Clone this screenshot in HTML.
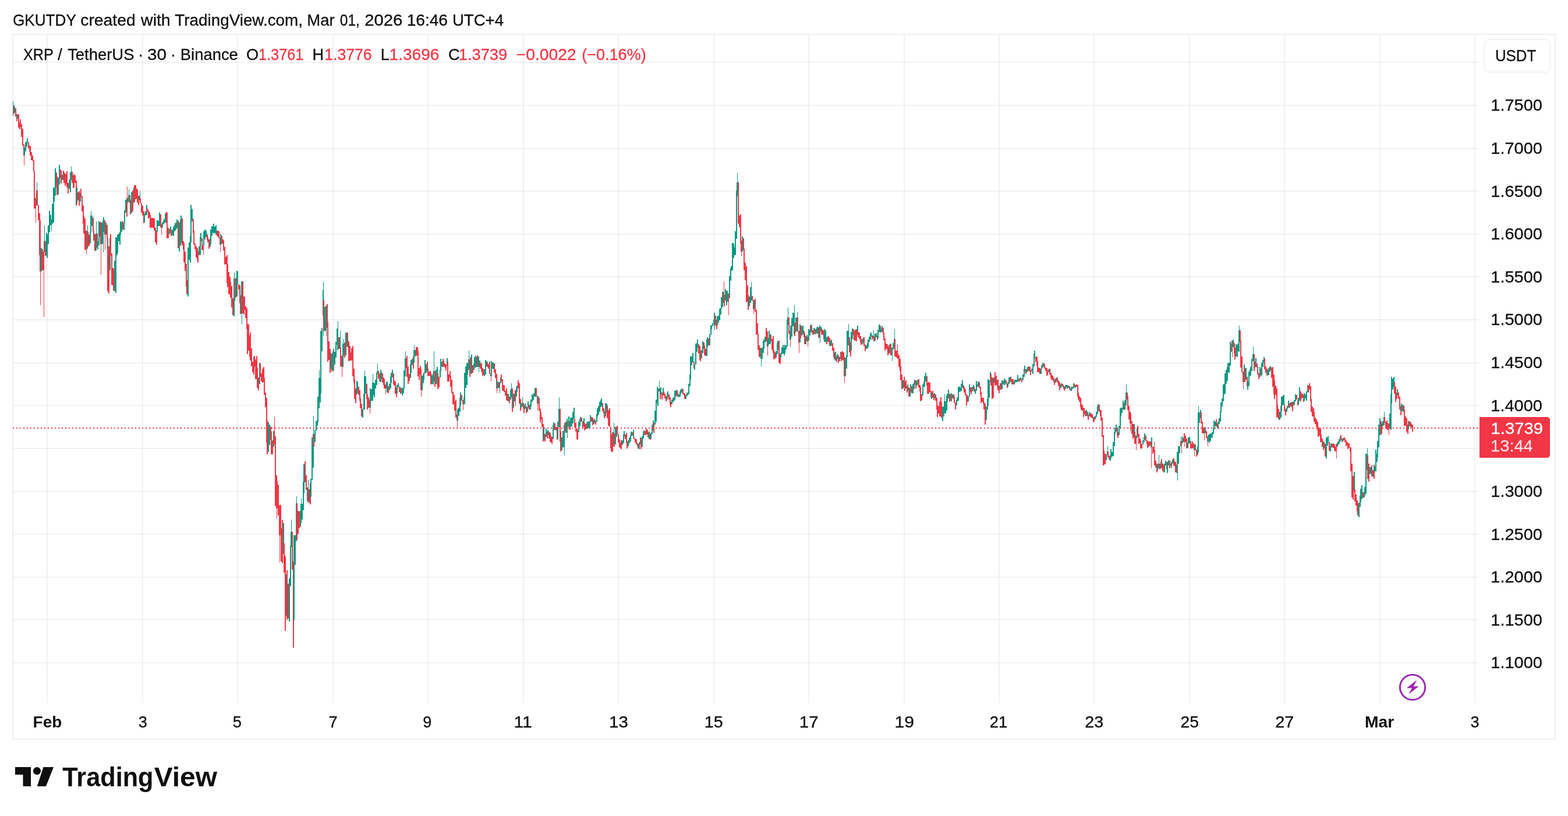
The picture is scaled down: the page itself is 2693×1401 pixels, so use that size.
<!DOCTYPE html>
<html lang="en"><head><meta charset="utf-8"><title>XRP / TetherUS chart</title>
<style>html,body{margin:0;padding:0;background:#fff;width:2693px;height:1401px;overflow:hidden}svg{display:block}text{white-space:pre}</style>
</head><body>
<svg width="2693" height="1401" viewBox="0 0 2693 1401" font-family="'Liberation Sans', Arial, Helvetica, sans-serif" role="img" aria-label="XRP / TetherUS 30 minute candlestick chart">
<rect width="2693" height="1401" fill="#ffffff"/>
<path d="M80 60h2V1207h-2zM244 60h2V1207h-2zM407 60h2V1207h-2zM571 60h2V1207h-2zM734 60h2V1207h-2zM898 60h2V1207h-2zM1061 60h2V1207h-2zM1225 60h2V1207h-2zM1388 60h2V1207h-2zM1552 60h2V1207h-2zM1715 60h2V1207h-2zM1878 60h2V1207h-2zM2042 60h2V1207h-2zM2205 60h2V1207h-2zM2369 60h2V1207h-2zM2532 60h2V1207h-2z" fill="#000" fill-opacity="0.052" shape-rendering="crispEdges"/>
<path d="M23 106H2539v2H23zM23 180H2539v2H23zM23 254H2539v2H23zM23 327H2539v2H23zM23 401H2539v2H23zM23 474H2539v2H23zM23 548H2539v2H23zM23 622H2539v2H23zM23 695H2539v2H23zM23 769H2539v2H23zM23 843H2539v2H23zM23 916H2539v2H23zM23 990H2539v2H23zM23 1063H2539v2H23zM23 1137H2539v2H23z" fill="#000" fill-opacity="0.055" shape-rendering="crispEdges"/>
<path d="M21 58H2672V1270H21zM23 60V1268H2670V60z" fill="#f0f0f0" fill-rule="evenodd" shape-rendering="crispEdges"/>
<path d="M23 181h1v14h-1zM24 181h1v2h-1zM24 193h1v2h-1zM26 186h2v14h-2zM28 196h1v12h-1zM29 196h1v1h-1zM29 204h1v4h-1zM31 196h2v23h-2zM33 210h1v12h-1zM34 205h1v17h-1zM35 205h1v13h-1zM36 213h2v22h-2zM38 221h2v29h-2zM40 248h1v19h-1zM41 248h1v5h-1zM41 267h1v17h-1zM48 244h2v11h-2zM50 250h1v10h-1zM51 250h1v17h-1zM52 251h1v16h-1zM53 261h2v14h-2zM55 267h2v9h-2zM57 275h1v19h-1zM58 275h1v83h-1zM59 294h1v64h-1zM60 340h1v18h-1zM61 340h1v42h-1zM63 327h2v26h-2zM65 352h2v26h-2zM67 366h1v72h-1zM68 366h1v100h-1zM69 378h1v146h-1zM72 428h2v36h-2zM74 432h1v32h-1zM75 433h1v111h-1zM77 414h2v25h-2zM96 296h1v26h-1zM97 296h1v39h-1zM98 303h1v32h-1zM103 291h1v15h-1zM104 291h1v24h-1zM105 293h1v22h-1zM108 293h1v16h-1zM109 293h1v21h-1zM110 296h1v18h-1zM111 298h2v21h-2zM113 299h1v17h-1zM114 294h2v28h-2zM116 314h2v18h-2zM123 295h2v19h-2zM125 301h1v22h-1zM126 299h1v24h-1zM127 299h1v23h-1zM128 301h2v13h-2zM130 310h1v43h-1zM131 310h1v12h-1zM131 350h1v3h-1zM133 330h2v14h-2zM135 328h2v25h-2zM138 324h2v15h-2zM140 337h2v26h-2zM142 353h1v31h-1zM143 353h1v48h-1zM144 371h1v30h-1zM145 375h2v54h-2zM147 396h1v33h-1zM148 396h1v41h-1zM150 398h2v26h-2zM152 403h2v19h-2zM159 374h1v23h-1zM160 374h1v39h-1zM161 396h1v17h-1zM162 402h2v29h-2zM166 401h1v24h-1zM167 401h1v13h-1zM171 382h1v24h-1zM172 381h1v38h-1zM173 381h1v91h-1zM179 378h1v25h-1zM180 378h1v51h-1zM183 386h1v24h-1zM184 386h1v114h-1zM185 409h1v91h-1zM186 423h2v81h-2zM189 402h2v37h-2zM191 435h2v54h-2zM193 460h1v30h-1zM194 460h1v39h-1zM195 462h1v37h-1zM210 380h2v14h-2zM217 340h1v32h-1zM218 320h1v20h-1zM218 348h1v24h-1zM222 335h1v13h-1zM223 335h1v33h-1zM224 343h1v25h-1zM227 327h2v36h-2zM230 318h2v29h-2zM232 318h2v24h-2zM234 324h1v17h-1zM235 324h1v24h-1zM236 326h1v22h-1zM237 336h2v16h-2zM240 340h2v9h-2zM242 349h2v16h-2zM244 353h2v17h-2zM246 363h1v20h-1zM247 363h1v4h-1zM247 382h1v1h-1zM252 358h2v6h-2zM254 361h2v14h-2zM256 364h1v10h-1zM257 364h1v27h-1zM258 369h1v22h-1zM259 374h4v17h-4zM263 375h1v16h-1zM264 375h2v21h-2zM266 391h2v25h-2zM268 396h1v24h-1zM333 396h1v24h-1zM269 398h1v22h-1zM275 368h1v22h-1zM276 368h1v23h-1zM277 385h1v18h-1zM285 364h1v19h-1zM286 364h1v45h-1zM287 365h1v44h-1zM288 391h2v18h-2zM293 394h2v11h-2zM305 379h2v47h-2zM312 375h2v46h-2zM314 414h1v14h-1zM315 414h1v36h-1zM316 417h1v33h-1zM317 432h2v33h-2zM319 453h1v39h-1zM320 453h1v52h-1zM321 481h1v24h-1zM331 376h1v24h-1zM332 376h1v44h-1zM334 418h2v10h-2zM336 423h2v19h-2zM338 426h1v20h-1zM339 426h1v25h-1zM340 431h1v20h-1zM346 409h2v20h-2zM1276 409h1v20h-1zM348 421h1v8h-1zM349 422h1v15h-1zM355 402h1v10h-1zM356 402h1v14h-1zM357 407h1v9h-1zM358 411h2v16h-2zM372 396h1v9h-1zM373 396h2v10h-2zM375 397h2v12h-2zM377 408h1v12h-1zM378 420h1v13h-1zM380 405h2v14h-2zM382 411h1v7h-1zM383 411h1v19h-1zM384 413h1v17h-1zM385 424h2v30h-2zM387 441h2v13h-2zM389 438h1v48h-1zM390 438h1v55h-1zM391 454h1v39h-1zM392 467h2v38h-2zM394 475h1v31h-1zM395 475h1v36h-1zM396 484h1v27h-1zM397 491h2v37h-2zM399 512h2v29h-2zM404 478h2v33h-2zM409 488h2v9h-2zM411 490h1v31h-1zM412 490h1v49h-1zM413 507h1v32h-1zM416 483h2v55h-2zM418 509h2v31h-2zM420 510h1v22h-1zM421 526h2v20h-2zM423 529h1v36h-1zM424 529h1v79h-1zM425 556h1v52h-1zM426 557h2v45h-2zM428 576h1v37h-1zM429 571h2v48h-2zM431 598h2v31h-2zM433 621h2v18h-2zM435 613h1v30h-1zM436 611h1v32h-1zM437 611h1v19h-1zM586 611h1v19h-1zM438 617h2v34h-2zM440 611h1v40h-1zM441 611h1v55h-1zM442 632h1v34h-1zM443 648h2v22h-2zM446 624h2v23h-2zM448 641h2v14h-2zM651 641h2v14h-2zM450 633h2v24h-2zM607 633h1v24h-1zM452 630h1v26h-1zM453 630h1v48h-1zM454 649h1v29h-1zM455 674h2v25h-2zM457 683h1v77h-1zM458 683h1v97h-1zM459 722h1v58h-1zM464 732h1v23h-1zM465 732h1v48h-1zM466 741h1v39h-1zM467 756h2v24h-2zM470 740h1v23h-1zM471 716h1v47h-1zM472 749h2v120h-2zM474 816h1v57h-1zM475 816h1v74h-1zM476 826h1v47h-1zM477 832h2v53h-2zM479 867h1v52h-1zM481 867h1v52h-1zM480 867h1v99h-1zM482 867h1v97h-1zM483 907h1v57h-1zM484 893h2v74h-2zM487 933h2v50h-2zM489 955h2v128h-2zM492 979h2v85h-2zM494 1002h2v60h-2zM501 913h2v65h-2zM503 964h1v148h-1zM504 1065h1v47h-1zM509 864h2v63h-2zM511 877h2v40h-2zM513 878h2v29h-2zM523 792h2v36h-2zM525 816h2v25h-2zM527 837h1v23h-1zM530 840h2v23h-2zM532 830h1v36h-1zM533 853h1v13h-1zM538 745h2v22h-2zM555 515h2v54h-2zM561 522h1v41h-1zM562 522h1v99h-1zM563 553h1v68h-1zM564 586h2v32h-2zM566 599h1v41h-1zM567 599h1v8h-1zM567 634h1v6h-1zM569 607h2v31h-2zM581 579h2v20h-2zM584 597h2v32h-2zM587 611h1v36h-1zM698 611h2v36h-2zM591 588h2v26h-2zM596 571h2v25h-2zM598 586h2v34h-2zM600 594h2v25h-2zM602 605h1v14h-1zM1448 605h1v14h-1zM603 598h2v21h-2zM605 594h2v52h-2zM608 633h1v52h-1zM609 651h1v34h-1zM610 667h2v25h-2zM615 664h2v14h-2zM1683 664h1v14h-1zM617 670h1v18h-1zM618 670h1v31h-1zM619 684h1v17h-1zM620 693h2v22h-2zM629 659h1v26h-1zM630 659h1v44h-1zM631 677h1v26h-1zM632 682h2v18h-2zM634 686h1v14h-1zM635 700h1v10h-1zM649 637h2v13h-2zM656 641h2v16h-2zM658 648h1v13h-1zM659 648h1v19h-1zM660 651h1v16h-1zM661 660h1v7h-1zM662 660h1v17h-1zM666 663h2v12h-2zM1565 663h2v12h-2zM675 641h1v19h-1zM740 641h1v19h-1zM676 641h1v21h-1zM677 653h1v9h-1zM678 655h2v21h-2zM680 665h1v17h-1zM681 675h1v7h-1zM685 664h2v9h-2zM688 667h2v8h-2zM853 667h1v8h-1zM697 615h1v17h-1zM700 629h2v30h-2zM702 642h2v12h-2zM853 642h1v12h-1zM709 612h1v21h-1zM710 623h1v10h-1zM824 623h2v10h-2zM714 596h2v15h-2zM716 596h1v14h-1zM717 596h1v50h-1zM718 602h1v44h-1zM719 632h2v20h-2zM721 628h1v15h-1zM722 628h1v42h-1zM723 633h1v48h-1zM733 621h1v17h-1zM734 621h1v25h-1zM735 633h1v13h-1zM736 638h2v7h-2zM738 637h1v9h-1zM739 637h1v23h-1zM746 637h2v27h-2zM773 637h1v27h-1zM751 641h2v27h-2zM753 647h2v18h-2zM1552 647h1v18h-1zM760 616h2v14h-2zM762 620h1v8h-1zM763 624h2v7h-2zM2158 624h1v7h-1zM765 626h2v10h-2zM768 621h2v34h-2zM770 643h2v12h-2zM860 643h2v12h-2zM772 637h1v11h-1zM774 646h1v18h-1zM775 652h2v23h-2zM777 673h2v21h-2zM779 678h1v17h-1zM780 678h1v27h-1zM781 689h1v16h-1zM782 686h2v31h-2zM784 712h1v10h-1zM785 722h1v14h-1zM792 678h2v10h-2zM794 687h1v7h-1zM795 687h1v17h-1zM806 617h1v30h-1zM807 613h1v34h-1zM808 613h1v28h-1zM811 627h2v13h-2zM819 610h2v20h-2zM1543 610h2v20h-2zM826 624h2v14h-2zM828 632h2v13h-2zM1797 632h2v13h-2zM830 634h1v10h-1zM836 622h2v8h-2zM838 625h2v8h-2zM1794 625h1v8h-1zM840 621h2v21h-2zM842 641h1v5h-1zM843 646h1v9h-1zM848 624h2v16h-2zM850 634h2v15h-2zM852 642h1v25h-1zM855 656h2v10h-2zM1681 656h2v10h-2zM862 651h2v20h-2zM864 661h1v10h-1zM865 661h1v12h-1zM866 662h1v11h-1zM867 671h2v8h-2zM869 667h1v20h-1zM870 667h1v21h-1zM871 676h1v12h-1zM874 681h2v11h-2zM1639 681h1v11h-1zM879 667h2v40h-2zM884 670h1v19h-1zM885 670h1v27h-1zM889 653h2v14h-2zM1555 653h2v14h-2zM1572 653h2v14h-2zM891 658h2v35h-2zM893 685h1v20h-1zM894 685h1v7h-1zM894 700h1v5h-1zM898 692h1v9h-1zM899 692h1v17h-1zM900 696h1v13h-1zM903 698h2v11h-2zM908 695h2v8h-2zM920 666h2v15h-2zM922 680h1v13h-1zM923 693h1v12h-1zM925 683h2v22h-2zM927 702h2v23h-2zM929 708h1v12h-1zM930 716h2v17h-2zM932 728h1v30h-1zM933 728h1v5h-1zM933 756h1v2h-1zM935 745h2v13h-2zM939 741h1v12h-1zM942 741h2v12h-2zM940 747h1v6h-1zM944 743h2v16h-2zM946 748h1v11h-1zM2035 748h2v11h-2zM947 750h2v12h-2zM952 727h2v11h-2zM2384 727h1v11h-1zM954 733h2v6h-2zM956 733h1v22h-1zM957 754h1v1h-1zM961 702h1v56h-1zM962 702h1v73h-1zM963 741h1v34h-1zM971 724h2v19h-2zM978 723h1v15h-1zM979 733h1v5h-1zM986 719h2v15h-2zM988 726h2v15h-2zM990 736h1v18h-1zM991 736h1v19h-1zM992 739h1v16h-1zM998 717h2v7h-2zM1000 723h2v13h-2zM1003 726h2v13h-2zM1005 728h2v9h-2zM1007 725h1v11h-1zM1015 716h2v8h-2zM1879 716h1v8h-1zM1017 717h2v13h-2zM1022 722h2v7h-2zM1034 692h2v14h-2zM1036 701h1v9h-1zM1037 701h1v17h-1zM1038 706h1v12h-1zM1042 696h2v22h-2zM1044 704h2v27h-2zM1046 701h2v32h-2zM1048 733h1v37h-1zM1049 733h1v42h-1zM1050 746h1v29h-1zM1051 742h2v34h-2zM1054 744h2v23h-2zM2034 744h1v23h-1zM1059 731h2v15h-2zM1061 745h2v15h-2zM1063 754h2v14h-2zM1065 760h1v10h-1zM1066 756h2v15h-2zM1073 746h2v8h-2zM1075 743h1v17h-1zM1076 743h1v27h-1zM1077 758h1v12h-1zM2047 758h2v12h-2zM1085 742h2v6h-2zM1088 751h2v3h-2zM1090 753h2v7h-2zM1092 754h2v9h-2zM1094 761h1v5h-1zM1095 761h1v9h-1zM1096 762h1v8h-1zM1960 762h2v8h-2zM2046 762h1v8h-1zM1100 752h2v19h-2zM1107 740h2v7h-2zM1109 736h2v10h-2zM1111 738h1v8h-1zM1112 738h1v13h-1zM1113 742h1v9h-1zM1116 745h1v10h-1zM1117 753h1v2h-1zM1122 726h2v17h-2zM1133 667h1v18h-1zM1134 677h1v8h-1zM1637 677h1v8h-1zM1136 674h2v12h-2zM1852 674h1v12h-1zM1935 674h1v12h-1zM1139 672h2v7h-2zM1141 676h2v8h-2zM1143 680h2v9h-2zM1148 677h2v9h-2zM1150 682h1v13h-1zM1151 682h1v17h-1zM1152 690h1v9h-1zM2217 690h2v9h-2zM1162 670h1v9h-1zM1163 670h1v11h-1zM1164 675h1v6h-1zM1172 668h2v9h-2zM1174 675h1v4h-1zM1175 675h1v10h-1zM2235 675h1v10h-1zM1176 676h1v9h-1zM1191 621h1v11h-1zM1192 621h1v5h-1zM1199 591h2v16h-2zM1201 594h1v24h-1zM1202 594h1v26h-1zM1203 602h1v18h-1zM1208 588h1v11h-1zM1209 588h1v22h-1zM1210 593h1v17h-1zM1211 599h2v12h-2zM1216 581h2v12h-2zM1228 542h2v17h-2zM1230 549h1v16h-1zM1231 558h1v7h-1zM1242 501h1v19h-1zM1243 483h1v43h-1zM1244 506h1v20h-1zM1250 504h1v14h-1zM1251 504h1v37h-1zM1267 313h2v71h-2zM1269 370h2v20h-2zM1271 368h1v50h-1zM1272 368h1v64h-1zM1273 413h1v27h-1zM1277 409h1v55h-1zM1278 427h1v37h-1zM1279 451h2v30h-2zM1281 457h2v62h-2zM1283 490h1v28h-1zM1284 490h1v42h-1zM1285 506h1v26h-1zM1291 508h2v8h-2zM1293 515h1v16h-1zM1294 531h1v8h-1zM1296 513h2v22h-2zM1298 532h2v43h-2zM1300 555h1v19h-1zM1301 555h1v46h-1zM1302 573h1v28h-1zM1303 593h2v20h-2zM1305 597h1v16h-1zM1431 597h1v16h-1zM1306 597h1v1h-1zM1315 563h2v23h-2zM1317 569h1v26h-1zM1318 569h1v11h-1zM1318 595h1v15h-1zM1525 595h1v15h-1zM1323 575h2v10h-2zM1325 582h2v19h-2zM1327 577h1v29h-1zM1328 577h1v40h-1zM1329 601h1v16h-1zM1330 605h2v11h-2zM1337 585h2v38h-2zM1339 608h1v17h-1zM1340 614h1v11h-1zM1354 545h2v28h-2zM1356 568h1v15h-1zM1414 568h1v15h-1zM1357 583h1v12h-1zM1364 554h2v23h-2zM1369 545h2v24h-2zM1371 568h1v20h-1zM1372 568h1v38h-1zM1374 559h2v22h-2zM1380 568h1v11h-1zM1381 568h1v23h-1zM1382 573h1v18h-1zM1386 578h1v8h-1zM1387 578h1v17h-1zM1393 558h2v13h-2zM1395 567h2v8h-2zM1400 565h2v9h-2zM1405 562h2v18h-2zM1410 564h2v10h-2zM1412 566h2v9h-2zM1419 579h1v12h-1zM1420 587h1v4h-1zM1422 577h2v10h-2zM1424 580h2v14h-2zM1429 589h2v13h-2zM1432 597h1v20h-1zM2121 597h1v20h-1zM1433 605h1v12h-1zM1436 612h1v9h-1zM1437 616h1v5h-1zM1439 610h2v13h-2zM1444 604h2v16h-2zM1446 603h2v15h-2zM1449 605h1v41h-1zM1450 613h1v44h-1zM1458 579h2v26h-2zM1460 587h1v25h-1zM1461 602h1v10h-1zM1465 565h1v10h-1zM1466 565h1v19h-1zM1467 568h1v16h-1zM1468 566h2v19h-2zM1470 565h2v21h-2zM1473 570h2v9h-2zM1475 571h2v11h-2zM1477 577h1v11h-1zM1478 577h1v15h-1zM1479 582h1v10h-1zM1483 579h2v15h-2zM1485 592h2v11h-2zM1497 576h2v7h-2zM1506 576h1v7h-1zM1500 577h2v9h-2zM1507 581h1v2h-1zM1511 559h1v12h-1zM1512 559h1v5h-1zM1512 570h1v1h-1zM1516 563h1v10h-1zM1517 563h1v21h-1zM1518 571h1v13h-1zM1519 581h2v21h-2zM1521 590h2v9h-2zM1523 591h1v9h-1zM1524 591h1v19h-1zM1529 591h2v19h-2zM1526 592h2v15h-2zM1536 582h2v30h-2zM1538 602h2v11h-2zM1540 602h1v13h-1zM1541 591h1v25h-1zM1542 607h1v9h-1zM1545 616h1v21h-1zM1546 616h1v37h-1zM1547 629h1v24h-1zM1548 643h2v25h-2zM1553 647h1v24h-1zM1554 655h1v16h-1zM1557 663h1v11h-1zM1558 671h1v3h-1zM1560 665h2v16h-2zM1577 651h2v14h-2zM1579 661h1v11h-1zM1580 661h1v28h-1zM1581 665h1v24h-1zM1582 677h2v10h-2zM1591 646h1v16h-1zM1592 646h1v30h-1zM1593 657h1v19h-1zM1594 656h2v20h-2zM2394 656h2v20h-2zM1596 657h2v16h-2zM1598 671h1v11h-1zM1599 671h1v2h-1zM1601 671h2v12h-2zM1603 676h1v11h-1zM1604 684h1v3h-1zM1606 677h2v11h-2zM1632 677h1v11h-1zM1608 683h1v20h-1zM1689 683h1v20h-1zM1609 683h1v33h-1zM1610 695h1v21h-1zM2194 695h1v21h-1zM1611 697h2v13h-2zM1613 689h2v26h-2zM1615 682h1v33h-1zM1616 682h1v35h-1zM1617 691h1v26h-1zM1630 676h2v14h-2zM1638 677h1v15h-1zM1640 691h2v12h-2zM1654 662h1v7h-1zM1655 662h1v12h-1zM2246 662h2v12h-2zM1656 665h1v9h-1zM1657 668h2v11h-2zM1659 677h2v19h-2zM1661 679h1v11h-1zM1662 679h1v2h-1zM1662 689h1v1h-1zM1666 665h1v8h-1zM1667 665h2v12h-2zM1672 664h2v8h-2zM1684 664h1v28h-1zM1685 673h1v19h-1zM1686 683h2v7h-2zM1688 683h1v10h-1zM1690 690h1v13h-1zM1691 693h2v36h-2zM1701 642h2v20h-2zM1703 648h2v37h-2zM1705 649h1v34h-1zM1706 657h1v26h-1zM1708 639h2v23h-2zM1710 645h2v16h-2zM1712 652h1v12h-1zM1713 652h2v18h-2zM1715 662h2v13h-2zM1718 658h2v11h-2zM2248 658h2v11h-2zM1727 653h2v7h-2zM1729 659h1v7h-1zM1730 664h1v2h-1zM1735 647h2v8h-2zM2142 647h1v8h-1zM1737 651h4v9h-4zM1749 650h2v5h-2zM1754 650h2v6h-2zM1761 634h2v8h-2zM1766 629h2v8h-2zM1768 630h1v8h-1zM1769 630h1v14h-1zM1770 636h1v8h-1zM1799 636h1v8h-1zM1778 613h2v8h-2zM1780 612h1v16h-1zM1781 612h1v27h-1zM2132 612h2v27h-2zM1782 620h1v19h-1zM1783 631h2v8h-2zM1785 632h2v10h-2zM1792 624h1v5h-1zM1793 624h1v9h-1zM1795 631h2v6h-2zM1802 633h2v10h-2zM1804 640h1v9h-1zM1805 640h1v12h-1zM1806 644h1v8h-1zM1807 645h2v8h-2zM1809 649h1v7h-1zM1810 649h1v12h-1zM1811 652h1v9h-1zM1815 648h2v9h-2zM1817 653h2v10h-2zM1819 656h2v14h-2zM1824 659h2v5h-2zM1826 662h1v6h-1zM1827 662h1v9h-1zM1828 664h1v7h-1zM1836 663h2v6h-2zM1838 667h1v4h-1zM1844 659h2v6h-2zM1848 660h2v4h-2zM1850 661h1v20h-1zM1851 661h1v25h-1zM1853 680h2v10h-2zM1855 683h1v16h-1zM1856 683h1v21h-1zM1857 693h1v11h-1zM1858 695h2v10h-2zM1860 700h2v16h-2zM1862 701h1v10h-1zM1863 705h2v9h-2zM1867 707h1v8h-1zM1868 707h1v14h-1zM1869 712h1v9h-1zM1872 709h1v6h-1zM1873 709h1v8h-1zM1874 710h1v7h-1zM1875 711h2v7h-2zM1877 716h2v9h-2zM1887 695h2v12h-2zM1889 704h1v10h-1zM1890 704h2v18h-2zM1892 717h2v33h-2zM1894 747h2v52h-2zM1896 773h1v25h-1zM1897 779h2v18h-2zM1902 775h2v10h-2zM1904 782h2v7h-2zM1918 735h1v13h-1zM2265 735h2v13h-2zM1919 735h1v17h-1zM1920 742h1v10h-1zM1930 692h1v12h-1zM1931 703h1v1h-1zM1936 674h1v30h-1zM1937 680h1v24h-1zM1938 697h2v23h-2zM1940 707h1v20h-1zM1941 707h1v33h-1zM1942 710h1v17h-1zM1943 723h2v22h-2zM1945 728h2v25h-2zM1948 741h2v21h-2zM1950 748h1v14h-1zM1951 748h1v25h-1zM1953 731h2v18h-2zM1955 745h2v17h-2zM1957 753h1v8h-1zM1958 753h1v17h-1zM2037 753h2v17h-2zM1959 756h1v14h-1zM1967 748h2v9h-2zM1969 756h1v7h-1zM1970 756h1v13h-1zM1971 757h1v12h-1zM1972 758h2v9h-2zM1974 758h2v7h-2zM1976 758h1v10h-1zM1977 768h1v36h-1zM1979 767h2v12h-2zM1981 767h1v9h-1zM1982 758h1v41h-1zM1983 773h1v26h-1zM1984 791h2v12h-2zM1986 796h1v15h-1zM1987 808h1v3h-1zM1991 796h2v10h-2zM1994 788h2v16h-2zM1996 796h2v13h-2zM1998 798h1v13h-1zM2003 793h1v13h-1zM2008 791h2v13h-2zM2010 796h1v4h-1zM2015 787h2v13h-2zM2017 792h1v8h-1zM2018 793h2v18h-2zM2020 798h1v14h-1zM2028 757h1v9h-1zM2029 757h1v21h-1zM2032 752h1v7h-1zM2033 744h1v15h-1zM2044 757h2v13h-2zM2049 761h1v8h-1zM2289 761h2v8h-2zM2316 761h2v8h-2zM2050 761h1v12h-1zM2051 763h1v20h-1zM2054 772h2v12h-2zM2062 708h2v19h-2zM2064 724h2v20h-2zM2066 734h2v10h-2zM2068 735h1v21h-1zM2071 740h2v12h-2zM2073 750h1v8h-1zM2074 758h1v8h-1zM2088 720h2v12h-2zM2090 727h1v8h-1zM2115 585h1v19h-1zM2116 585h1v28h-1zM2119 589h1v18h-1zM2120 589h1v28h-1zM2129 567h1v20h-1zM2130 567h1v64h-1zM2131 585h1v46h-1zM2134 638h1v18h-1zM2135 638h1v30h-1zM2137 632h2v24h-2zM2141 647h1v16h-1zM2153 608h2v29h-2zM2155 621h1v10h-1zM2159 624h1v19h-1zM2160 630h1v13h-1zM2161 641h2v10h-2zM2165 633h1v11h-1zM2171 616h2v18h-2zM2173 629h2v11h-2zM2175 633h1v12h-1zM2176 633h1v2h-1zM2176 644h1v1h-1zM2182 630h1v6h-1zM2183 630h1v19h-1zM2184 632h1v17h-1zM2185 630h2v34h-2zM2187 643h1v34h-1zM2188 643h1v42h-1zM2189 653h1v32h-1zM2190 662h2v16h-2zM2192 667h2v50h-2zM2195 702h2v18h-2zM2205 695h2v11h-2zM2207 702h2v11h-2zM2214 692h2v8h-2zM2219 690h2v16h-2zM2226 678h2v8h-2zM2228 686h1v10h-1zM2229 695h1v1h-1zM2233 672h2v17h-2zM2236 676h2v7h-2zM2238 678h1v12h-1zM2239 688h1v2h-1zM2250 663h1v26h-1zM2251 663h1v44h-1zM2252 685h1v22h-1zM2253 698h2v17h-2zM2255 701h1v14h-1zM2256 701h1v23h-1zM2257 707h1v17h-1zM2258 717h2v11h-2zM2260 720h2v13h-2zM2262 724h1v15h-1zM2263 724h1v26h-1zM2264 732h1v18h-1zM2267 736h2v23h-2zM2269 746h1v13h-1zM2270 753h2v14h-2zM2272 758h1v14h-1zM2273 769h1v3h-1zM2275 762h2v22h-2zM2282 759h2v15h-2zM2287 762h2v6h-2zM2291 763h1v10h-1zM2292 763h1v12h-1zM2293 767h1v8h-1zM2294 762h1v13h-1zM2295 762h1v25h-1zM2302 747h2v8h-2zM2304 753h2v6h-2zM2310 753h1v6h-1zM2308 751h1v4h-1zM2309 751h1v8h-1zM2311 756h2v10h-2zM2313 759h1v5h-1zM2314 759h1v12h-1zM2315 761h1v10h-1zM2318 768h1v7h-1zM2319 768h2v41h-2zM2321 796h2v58h-2zM2323 817h2v41h-2zM2326 840h2v21h-2zM2328 849h2v19h-2zM2330 859h1v19h-1zM2331 859h1v26h-1zM2332 864h1v21h-1zM2340 845h2v10h-2zM2348 782h2v40h-2zM2350 796h2v31h-2zM2354 802h1v11h-1zM2357 807h2v11h-2zM2359 798h1v24h-1zM2360 798h1v3h-1zM2360 810h1v12h-1zM2371 723h2v23h-2zM2373 727h1v17h-1zM2377 716h2v10h-2zM2379 724h2v11h-2zM2381 722h1v15h-1zM2382 722h1v16h-1zM2383 726h1v12h-1zM2385 727h1v20h-1zM2396 664h2v26h-2zM2398 674h1v11h-1zM2399 679h1v6h-1zM2401 674h2v10h-2zM2403 681h2v22h-2zM2405 697h1v16h-1zM2406 706h1v7h-1zM2410 696h1v11h-1zM2411 696h1v35h-1zM2412 703h1v28h-1zM2413 715h2v16h-2zM2415 718h2v23h-2zM2417 729h1v16h-1zM2418 737h1v8h-1zM2420 723h2v9h-2zM2422 725h1v8h-1zM2423 725h1v9h-1zM2424 728h1v6h-1zM2425 729h2v12h-2z" fill="#f23645" shape-rendering="crispEdges"/>
<path d="M22 174h1v25h-1zM24 183h2v10h-2zM29 197h2v7h-2zM41 253h2v14h-2zM43 244h2v16h-2zM45 243h1v9h-1zM46 237h1v15h-1zM47 237h1v8h-1zM62 327h1v26h-1zM63 313h1v14h-1zM70 426h2v40h-2zM75 414h1v19h-1zM76 387h1v46h-1zM79 400h1v39h-1zM80 400h1v43h-1zM81 403h1v40h-1zM82 387h2v32h-2zM84 362h2v37h-2zM156 362h1v37h-1zM86 369h2v18h-2zM88 377h1v20h-1zM89 350h2v34h-2zM91 322h2v60h-2zM93 322h1v24h-1zM94 289h2v47h-2zM99 305h2v29h-2zM101 283h2v34h-2zM106 300h2v9h-2zM118 308h2v16h-2zM120 296h1v34h-1zM121 295h1v35h-1zM122 286h1v23h-1zM131 322h2v28h-2zM137 331h1v15h-1zM138 339h1v7h-1zM149 396h1v31h-1zM150 387h1v11h-1zM299 387h1v11h-1zM150 424h1v3h-1zM154 399h1v19h-1zM155 370h1v48h-1zM157 370h2v18h-2zM164 401h1v29h-1zM165 380h1v50h-1zM167 414h2v14h-2zM169 380h2v41h-2zM174 382h2v37h-2zM176 378h1v41h-1zM177 373h1v60h-1zM178 373h1v25h-1zM181 382h2v21h-2zM188 409h1v55h-1zM189 439h1v25h-1zM196 448h2v52h-2zM198 407h2v96h-2zM200 408h1v30h-1zM201 403h1v35h-1zM202 403h1v31h-1zM203 401h2v13h-2zM205 398h1v22h-1zM206 380h1v40h-1zM207 380h1v23h-1zM208 381h2v17h-2zM212 383h1v12h-1zM213 361h1v34h-1zM214 361h1v23h-1zM215 343h2v22h-2zM218 340h2v8h-2zM220 335h1v12h-1zM221 325h1v22h-1zM225 330h2v36h-2zM229 322h1v26h-1zM230 347h1v1h-1zM239 336h1v8h-1zM240 328h1v12h-1zM247 367h2v15h-2zM249 363h2v7h-2zM251 352h1v17h-1zM252 352h1v6h-1zM252 364h1v5h-1zM269 378h2v20h-2zM271 379h2v9h-2zM273 365h2v23h-2zM278 382h2v9h-2zM280 379h1v6h-1zM281 376h1v9h-1zM282 376h1v7h-1zM283 366h2v16h-2zM290 393h2v9h-2zM292 389h1v11h-1zM368 389h2v11h-2zM293 389h1v5h-1zM295 395h2v9h-2zM297 391h1v14h-1zM298 387h1v18h-1zM300 383h2v13h-2zM302 382h1v11h-1zM303 377h1v16h-1zM304 377h1v14h-1zM307 382h2v50h-2zM309 377h1v45h-1zM310 370h1v52h-1zM311 370h1v47h-1zM322 425h2v84h-2zM324 416h2v30h-2zM326 405h1v46h-1zM327 352h1v99h-1zM328 352h1v64h-1zM329 359h2v21h-2zM341 423h2v15h-2zM343 407h1v31h-1zM344 400h1v38h-1zM345 400h1v14h-1zM349 397h2v25h-2zM351 394h2v17h-2zM353 396h2v11h-2zM360 409h1v15h-1zM361 394h1v30h-1zM362 394h1v25h-1zM363 388h2v17h-2zM365 389h1v10h-1zM366 384h2v17h-2zM370 387h2v16h-2zM378 402h2v18h-2zM401 478h1v65h-1zM402 468h1v75h-1zM403 478h1v39h-1zM406 465h2v44h-2zM408 466h1v22h-1zM414 483h1v56h-1zM415 483h1v74h-1zM445 623h1v36h-1zM446 623h1v1h-1zM848 623h1v1h-1zM446 647h1v12h-1zM460 725h2v51h-2zM462 729h2v35h-2zM469 740h1v27h-1zM470 763h1v4h-1zM486 898h1v53h-1zM487 898h1v35h-1zM491 986h1v71h-1zM496 993h2v74h-2zM498 937h1v69h-1zM499 913h1v93h-1zM500 892h1v47h-1zM504 919h2v146h-2zM506 919h2v51h-2zM508 864h1v65h-1zM509 852h1v12h-1zM509 927h1v2h-1zM515 877h1v27h-1zM516 865h1v39h-1zM517 856h1v42h-1zM518 865h2v27h-2zM520 827h1v49h-1zM521 797h1v79h-1zM522 797h1v50h-1zM528 837h1v25h-1zM529 824h1v38h-1zM533 822h2v31h-2zM535 751h2v73h-2zM537 745h1v58h-1zM538 714h1v31h-1zM538 767h1v36h-1zM540 738h2v21h-2zM542 723h2v16h-2zM544 721h1v10h-1zM545 681h1v50h-1zM546 681h1v44h-1zM547 649h1v52h-1zM548 635h1v66h-1zM549 649h1v42h-1zM550 568h1v123h-1zM551 568h1v108h-1zM552 563h2v40h-2zM554 498h1v44h-1zM555 484h1v31h-1zM555 569h1v8h-1zM557 527h2v41h-2zM559 525h1v43h-1zM560 525h1v52h-1zM567 607h2v27h-2zM571 603h1v32h-1zM572 599h2v38h-2zM574 604h2v22h-2zM576 587h2v27h-2zM578 564h1v28h-1zM579 564h1v37h-1zM580 551h1v50h-1zM583 579h1v20h-1zM584 567h1v30h-1zM588 590h1v40h-1zM589 582h1v48h-1zM590 590h1v21h-1zM593 571h2v39h-2zM595 571h1v24h-1zM612 654h2v23h-2zM614 656h1v19h-1zM858 656h1v19h-1zM622 702h2v15h-2zM624 676h1v27h-1zM625 646h1v57h-1zM626 636h1v67h-1zM627 646h2v30h-2zM635 667h2v33h-2zM637 668h2v20h-2zM639 657h1v31h-1zM640 642h1v46h-1zM641 657h1v21h-1zM642 657h1v25h-1zM643 658h1v24h-1zM878 658h1v24h-1zM644 652h2v15h-2zM646 640h1v21h-1zM647 637h1v24h-1zM648 624h1v18h-1zM653 635h2v21h-2zM655 639h1v12h-1zM663 656h1v11h-1zM664 655h2v19h-2zM668 659h2v11h-2zM670 647h1v20h-1zM671 640h1v27h-1zM672 640h1v17h-1zM673 635h2v13h-2zM681 661h2v14h-2zM683 658h2v7h-2zM687 665h1v11h-1zM688 665h1v2h-1zM688 675h1v1h-1zM690 666h2v13h-2zM1138 666h1v13h-1zM692 666h1v9h-1zM693 636h1v39h-1zM694 636h1v31h-1zM695 615h1v31h-1zM696 603h1v43h-1zM704 626h1v23h-1zM705 618h1v31h-1zM706 618h1v22h-1zM707 616h2v11h-2zM710 601h1v22h-1zM711 593h1v30h-1zM712 601h2v11h-2zM724 645h2v25h-2zM726 643h1v15h-1zM727 640h1v18h-1zM728 640h1v12h-1zM729 618h2v23h-2zM731 625h2v15h-2zM741 644h2v15h-2zM743 641h1v19h-1zM744 637h1v23h-1zM745 603h1v52h-1zM748 635h2v24h-2zM2105 635h2v24h-2zM750 630h1v30h-1zM751 630h1v11h-1zM755 634h1v14h-1zM756 616h1v32h-1zM757 616h1v21h-1zM2149 616h2v21h-2zM758 621h2v9h-2zM767 615h1v13h-1zM768 615h1v6h-1zM785 702h2v20h-2zM787 700h2v14h-2zM789 683h1v24h-1zM790 674h1v33h-1zM791 674h1v22h-1zM1933 674h1v22h-1zM796 682h1v12h-1zM797 640h2v54h-2zM799 629h2v37h-2zM801 623h2v38h-2zM803 623h1v20h-1zM804 617h1v18h-1zM805 602h1v33h-1zM809 609h2v33h-2zM813 624h1v11h-1zM814 613h1v22h-1zM815 613h1v18h-1zM816 611h2v20h-2zM818 613h1v17h-1zM821 612h1v18h-1zM822 612h1v27h-1zM823 619h1v11h-1zM824 619h1v4h-1zM831 634h2v12h-2zM2146 634h1v12h-1zM833 618h2v25h-2zM835 620h1v9h-1zM836 620h1v2h-1zM843 620h2v26h-2zM845 622h2v11h-2zM847 623h1v11h-1zM853 654h2v13h-2zM857 656h1v10h-1zM859 648h1v10h-1zM860 655h1v3h-1zM872 676h2v13h-2zM883 676h1v13h-1zM876 670h1v16h-1zM877 667h1v19h-1zM881 676h2v24h-2zM886 666h1v15h-1zM918 666h2v15h-2zM887 662h1v19h-1zM888 662h1v11h-1zM894 692h2v8h-2zM896 692h1v6h-1zM897 682h1v16h-1zM901 693h2v9h-2zM905 699h1v8h-1zM906 689h1v18h-1zM907 689h1v11h-1zM910 694h1v9h-1zM911 686h1v17h-1zM912 686h1v12h-1zM913 677h2v13h-2zM915 678h1v9h-1zM916 675h1v12h-1zM917 675h1v6h-1zM923 680h2v13h-2zM933 733h2v23h-2zM937 736h2v14h-2zM940 738h2v9h-2zM949 729h1v25h-1zM950 725h1v29h-1zM951 725h1v14h-1zM957 724h2v30h-2zM959 702h1v31h-1zM960 682h1v51h-1zM964 751h2v22h-2zM966 740h2v28h-2zM968 730h1v38h-1zM969 726h1v56h-1zM970 726h1v15h-1zM973 719h1v24h-1zM974 719h1v33h-1zM975 723h1v10h-1zM976 715h2v18h-2zM979 717h2v16h-2zM981 717h2v15h-2zM983 707h2v20h-2zM985 700h2v19h-2zM993 724h2v18h-2zM995 719h1v13h-1zM996 716h1v16h-1zM997 716h1v8h-1zM1002 718h1v14h-1zM1003 718h1v8h-1zM1008 724h2v12h-2zM2091 724h2v12h-2zM1010 723h2v12h-2zM1012 724h1v10h-1zM1013 713h1v21h-1zM1014 713h1v11h-1zM1019 721h1v7h-1zM1020 719h1v9h-1zM1021 719h1v7h-1zM1024 711h1v13h-1zM1025 701h1v23h-1zM1026 701h1v14h-1zM1027 697h2v15h-2zM1029 690h2v17h-2zM1031 687h1v12h-1zM1032 684h1v15h-1zM1033 684h1v13h-1zM1039 692h2v23h-2zM1041 693h1v16h-1zM1042 693h1v3h-1zM1053 742h1v24h-1zM1913 742h1v24h-1zM1054 726h1v18h-1zM1056 733h2v30h-2zM1058 733h1v17h-1zM1059 746h1v4h-1zM1068 756h2v8h-2zM1070 746h1v15h-1zM1071 740h1v21h-1zM1072 740h1v10h-1zM1078 756h2v10h-2zM1080 751h2v10h-2zM1082 747h1v11h-1zM2074 747h2v11h-2zM1083 741h1v17h-1zM1084 741h1v8h-1zM1087 738h2v13h-2zM1097 759h2v12h-2zM1099 751h1v12h-1zM1100 751h1v1h-1zM1102 749h2v18h-2zM1104 742h1v11h-1zM1105 739h1v14h-1zM1106 739h1v8h-1zM1114 741h2v13h-2zM1117 743h2v10h-2zM1119 729h2v16h-2zM1121 722h1v17h-1zM1122 722h1v4h-1zM1124 705h2v24h-2zM1126 686h2v38h-2zM1128 664h1v28h-1zM1129 664h1v33h-1zM1130 667h1v30h-1zM1131 667h1v5h-1zM1132 654h1v18h-1zM1134 665h2v12h-2zM1139 666h1v6h-1zM1649 666h1v6h-1zM1145 675h1v11h-1zM1146 672h1v14h-1zM1147 672h1v10h-1zM1153 686h2v8h-2zM1155 683h2v7h-2zM1157 682h1v6h-1zM1158 671h1v17h-1zM1159 671h1v16h-1zM1160 670h2v11h-2zM1165 677h2v5h-2zM1167 672h1v9h-1zM1168 669h1v12h-1zM1169 669h1v7h-1zM1170 667h2v7h-2zM1177 678h2v7h-2zM1179 674h2v6h-2zM1181 674h1v4h-1zM1182 659h2v18h-2zM2102 659h1v18h-1zM1184 643h1v20h-1zM1185 612h1v51h-1zM1186 612h1v39h-1zM1187 612h2v15h-2zM1189 606h2v16h-2zM1192 626h2v9h-2zM1194 590h2v36h-2zM1196 589h1v15h-1zM1197 583h1v21h-1zM1198 583h1v14h-1zM1204 601h2v14h-2zM1206 586h2v20h-2zM1310 586h1v20h-1zM1213 583h1v28h-1zM1214 579h1v32h-1zM1215 579h1v16h-1zM1218 574h2v19h-2zM1220 558h2v17h-2zM1222 559h1v6h-1zM1223 555h2v5h-2zM1225 549h1v7h-1zM1226 537h1v22h-1zM1227 537h1v30h-1zM1231 543h2v15h-2zM1233 542h2v12h-2zM1235 530h2v20h-2zM1237 529h1v11h-1zM1238 510h1v30h-1zM1239 510h1v20h-1zM1240 501h2v26h-2zM1245 496h2v20h-2zM1247 499h2v25h-2zM1249 499h1v19h-1zM1252 474h2v38h-2zM1254 461h1v21h-1zM1255 457h1v25h-1zM1256 457h1v8h-1zM1257 417h2v47h-2zM1259 418h2v25h-2zM1261 425h1v13h-1zM1262 397h2v41h-2zM1264 327h1v83h-1zM1265 313h1v97h-1zM1266 297h1v40h-1zM1274 406h2v26h-2zM1286 509h2v17h-2zM1288 493h2v27h-2zM1290 484h1v32h-1zM1294 515h2v16h-2zM1306 598h1v18h-1zM1307 598h1v31h-1zM1308 597h2v19h-2zM1311 583h1v23h-1zM1312 583h1v16h-1zM1313 578h2v10h-2zM1318 580h2v15h-2zM1320 568h2v23h-2zM1322 574h1v16h-1zM1323 574h1v1h-1zM1323 585h1v5h-1zM1332 603h2v11h-2zM1334 589h1v19h-1zM1335 585h1v23h-1zM1336 585h1v15h-1zM1340 606h2v8h-2zM1342 596h2v12h-2zM1344 592h2v15h-2zM1346 597h1v13h-1zM1531 597h1v13h-1zM1347 592h1v18h-1zM1348 592h1v14h-1zM1349 593h2v7h-2zM1351 549h1v46h-1zM1352 545h1v50h-1zM1353 528h1v30h-1zM1357 559h2v24h-2zM1359 546h2v32h-2zM1361 537h2v23h-2zM1363 537h1v37h-1zM1364 524h1v30h-1zM1366 545h2v25h-2zM1368 545h1v23h-1zM1369 536h1v9h-1zM1373 557h1v31h-1zM1374 557h1v2h-1zM1374 581h1v7h-1zM1376 560h2v16h-2zM1378 559h2v15h-2zM1383 577h2v14h-2zM1385 575h1v11h-1zM1386 575h1v3h-1zM1388 565h2v20h-2zM1390 567h1v9h-1zM1391 558h1v18h-1zM1392 558h1v12h-1zM1397 563h2v11h-2zM1399 564h1v9h-1zM1402 562h1v10h-1zM1403 561h2v12h-2zM1407 559h1v21h-1zM1408 559h1v30h-1zM1409 561h1v8h-1zM1410 561h1v3h-1zM1415 565h2v22h-2zM1417 567h2v20h-2zM1420 578h2v9h-2zM1492 578h2v9h-2zM1426 585h1v9h-1zM1427 583h1v11h-1zM1428 583h1v10h-1zM1434 604h2v15h-2zM1437 608h2v8h-2zM1441 613h2v7h-2zM1443 604h1v12h-1zM1451 614h2v32h-2zM1453 610h1v23h-1zM1454 568h1v65h-1zM1455 568h1v45h-1zM1456 568h1v25h-1zM1457 556h1v37h-1zM1461 570h2v32h-2zM1463 564h2v18h-2zM1472 559h1v16h-1zM1473 559h1v11h-1zM1480 582h2v9h-2zM1482 580h1v9h-1zM1487 593h2v6h-2zM1489 589h1v9h-1zM1490 583h1v15h-1zM1491 583h1v13h-1zM2117 583h2v13h-2zM1494 573h1v10h-1zM1495 571h1v12h-1zM1496 571h1v7h-1zM1499 576h1v5h-1zM1500 567h1v10h-1zM1502 573h2v12h-2zM1504 572h2v7h-2zM1507 566h2v15h-2zM1509 557h2v13h-2zM1512 564h2v6h-2zM1514 560h2v10h-2zM1528 590h1v16h-1zM1529 590h1v1h-1zM1532 597h1v23h-1zM1533 589h2v11h-2zM1535 582h1v16h-1zM1536 565h1v17h-1zM1550 653h2v14h-2zM1558 660h2v11h-2zM1562 667h1v14h-1zM1563 660h1v21h-1zM1664 660h2v21h-2zM1564 660h1v13h-1zM1567 659h2v16h-2zM1569 657h1v11h-1zM1570 652h1v16h-1zM1571 652h1v8h-1zM1576 652h1v8h-1zM1742 652h1v8h-1zM1574 654h1v8h-1zM1575 652h1v10h-1zM1584 660h2v19h-2zM1586 655h1v9h-1zM1679 655h2v9h-2zM1587 646h2v18h-2zM1589 640h2v15h-2zM1599 673h2v12h-2zM1604 675h2v9h-2zM1618 698h2v25h-2zM1620 698h1v17h-1zM1621 689h1v26h-1zM1622 677h1v32h-1zM1623 689h2v21h-2zM1625 679h1v26h-1zM1626 676h1v29h-1zM1627 676h1v14h-1zM1628 669h2v15h-2zM1633 675h2v14h-2zM1635 677h2v7h-2zM2241 677h2v7h-2zM1642 687h1v9h-1zM2222 687h1v9h-1zM1643 682h1v14h-1zM1644 682h1v7h-1zM1645 664h2v24h-2zM1647 664h2v9h-2zM1650 659h1v13h-1zM1651 659h1v12h-1zM1652 653h2v13h-2zM1662 681h2v8h-2zM1669 664h2v8h-2zM1671 661h1v8h-1zM1672 661h1v3h-1zM1674 668h2v8h-2zM1676 654h2v17h-2zM1678 660h1v4h-1zM1693 698h2v23h-2zM1695 685h1v18h-1zM1696 651h1v52h-1zM1697 651h1v46h-1zM1698 653h2v30h-2zM1700 639h1v17h-1zM1701 639h1v3h-1zM1706 648h2v9h-2zM1717 658h1v11h-1zM1720 653h2v15h-2zM1722 654h2v6h-2zM1724 650h2v11h-2zM1726 652h1v6h-1zM1730 656h2v8h-2zM1732 648h2v11h-2zM1734 647h1v9h-1zM2394 647h1v9h-1zM1735 655h1v1h-1zM1741 655h1v5h-1zM1743 652h1v5h-1zM1744 652h3v4h-3zM1747 644h1v12h-1zM1748 644h1v11h-1zM1751 649h1v5h-1zM1752 648h1v6h-1zM1814 648h1v6h-1zM1753 648h1v4h-1zM1756 643h2v9h-2zM1758 633h1v14h-1zM1759 628h1v19h-1zM1760 628h1v11h-1zM1763 633h1v6h-1zM1764 630h1v9h-1zM1765 630h1v8h-1zM1771 633h2v5h-2zM1773 625h2v17h-2zM1775 607h1v22h-1zM1776 602h1v27h-1zM1777 602h1v13h-1zM1787 633h1v9h-1zM1788 627h1v15h-1zM1789 627h1v7h-1zM1790 623h2v8h-2zM1800 634h2v5h-2zM1812 650h2v7h-2zM1821 660h1v6h-1zM1822 658h1v8h-1zM1843 658h1v8h-1zM1823 658h1v5h-1zM1829 661h2v7h-2zM1831 661h1v4h-1zM1832 661h2v6h-2zM1834 662h2v4h-2zM1839 664h2v7h-2zM1841 664h2v4h-2zM1844 658h1v1h-1zM1844 665h1v1h-1zM1846 661h2v5h-2zM1865 704h2v10h-2zM1870 708h2v7h-2zM1880 714h2v6h-2zM1882 707h2v9h-2zM2377 707h1v9h-1zM1884 698h1v13h-1zM1885 694h1v17h-1zM1886 694h1v11h-1zM1899 780h2v10h-2zM1901 775h1v6h-1zM1902 766h1v9h-1zM2284 766h1v9h-1zM1906 783h1v8h-1zM1907 771h1v20h-1zM1908 771h1v16h-1zM1909 776h2v8h-2zM1911 759h2v24h-2zM1914 735h1v31h-1zM1915 735h1v10h-1zM2083 735h1v10h-1zM1916 729h2v12h-2zM1921 731h2v16h-2zM1923 702h1v34h-1zM1924 700h1v36h-1zM1925 700h1v15h-1zM1926 700h2v9h-2zM1928 688h2v15h-2zM1931 687h2v16h-2zM1934 660h1v36h-1zM1947 728h1v23h-1zM1948 728h1v13h-1zM1952 735h1v17h-1zM1953 749h1v3h-1zM1962 756h2v7h-2zM1964 750h1v9h-1zM1965 744h1v15h-1zM1966 744h1v11h-1zM1977 751h2v17h-2zM1987 796h2v12h-2zM1989 796h1v8h-1zM1990 781h1v23h-1zM1993 792h1v12h-1zM1999 796h2v15h-2zM2001 791h2v8h-2zM2004 793h2v19h-2zM2006 790h2v9h-2zM2011 793h2v10h-2zM2013 789h2v7h-2zM2021 776h1v36h-1zM2022 776h1v49h-1zM2023 766h2v30h-2zM2025 766h2v12h-2zM2027 757h1v9h-1zM2028 749h1v8h-1zM2030 750h2v11h-2zM2042 750h2v11h-2zM2039 760h1v9h-1zM2040 751h1v18h-1zM2041 751h1v11h-1zM2052 763h2v10h-2zM2056 767h1v14h-1zM2057 708h1v73h-1zM2058 697h1v79h-1zM2059 708h2v18h-2zM2061 704h1v14h-1zM2062 704h1v4h-1zM2069 733h2v11h-2zM2076 745h2v15h-2zM2078 745h1v12h-1zM2079 744h1v13h-1zM2080 744h1v8h-1zM2081 742h2v9h-2zM2084 722h1v23h-1zM2085 722h1v15h-1zM2086 724h2v8h-2zM2093 718h2v10h-2zM2095 706h1v18h-1zM2096 691h1v33h-1zM2097 691h1v17h-1zM2098 684h2v14h-2zM2100 660h2v29h-2zM2103 641h1v36h-1zM2104 641h1v35h-1zM2107 630h1v24h-1zM2108 623h1v31h-1zM2109 623h1v16h-1zM2110 623h2v17h-2zM2112 587h2v41h-2zM2114 590h1v14h-1zM2122 591h2v21h-2zM2124 593h1v20h-1zM2125 590h1v23h-1zM2126 590h1v13h-1zM2127 567h1v37h-1zM2128 559h1v45h-1zM2136 626h1v30h-1zM2137 626h1v6h-1zM2139 632h2v20h-2zM2142 655h2v14h-2zM2144 638h2v25h-2zM2147 630h1v16h-1zM2148 630h1v14h-1zM2151 608h1v12h-1zM2152 595h1v25h-1zM2156 615h2v15h-2zM2163 630h2v17h-2zM2166 623h2v22h-2zM2168 618h2v12h-2zM2170 613h1v10h-1zM2171 613h1v3h-1zM2176 635h2v9h-2zM2178 632h2v12h-2zM2180 629h2v9h-2zM2197 707h2v14h-2zM2199 697h1v20h-1zM2200 681h1v36h-1zM2201 681h1v26h-1zM2202 680h2v16h-2zM2204 678h2v17h-2zM2209 700h1v7h-1zM2210 697h1v10h-1zM2211 697h1v5h-1zM2212 688h2v12h-2zM2216 691h1v6h-1zM2221 690h1v6h-1zM2223 687h1v8h-1zM2224 677h2v12h-2zM2229 683h2v12h-2zM2231 665h2v23h-2zM2239 675h2v13h-2zM2243 672h2v16h-2zM2245 661h1v12h-1zM2246 661h1v1h-1zM2273 758h2v11h-2zM2277 751h2v36h-2zM2279 751h1v14h-1zM2280 749h1v16h-1zM2281 749h1v11h-1zM2285 761h1v14h-1zM2286 761h1v8h-1zM2296 761h1v6h-1zM2297 758h1v9h-1zM2298 758h1v6h-1zM2299 754h2v8h-2zM2301 750h1v8h-1zM2302 755h1v3h-1zM2306 752h2v5h-2zM2325 810h1v34h-1zM2326 810h1v30h-1zM2333 863h2v25h-2zM2335 851h1v19h-1zM2336 839h1v31h-1zM2337 839h1v23h-1zM2338 833h2v24h-2zM2342 845h1v9h-1zM2343 836h1v18h-1zM2344 836h1v15h-1zM2345 779h2v69h-2zM2347 779h1v28h-1zM2348 769h1v13h-1zM2352 802h2v12h-2zM2355 799h2v19h-2zM2360 801h2v9h-2zM2362 772h2v37h-2zM2364 779h1v14h-1zM2365 757h1v36h-1zM2366 757h1v28h-1zM2367 729h2v39h-2zM2369 718h2v29h-2zM2374 723h2v9h-2zM2376 716h1v14h-1zM2377 726h1v4h-1zM2386 710h2v25h-2zM2388 676h1v62h-1zM2389 647h1v91h-1zM2390 647h1v46h-1zM2391 650h2v19h-2zM2393 647h1v18h-1zM2399 668h2v11h-2zM2406 693h2v13h-2zM2408 695h2v11h-2zM2418 723h2v14h-2z" fill="#089981" shape-rendering="crispEdges"/>
<path d="M22 735H2541" stroke="#f23645" stroke-width="2" stroke-dasharray="2 4" fill="none" shape-rendering="crispEdges"/>
<text id="header" y="44.40" font-size="27.7"><tspan x="21.88" fill="#0f0f0f" textLength="108.48" lengthAdjust="spacingAndGlyphs" stroke="#0f0f0f" stroke-width="0.3">GKUTDY</tspan> <tspan x="138.26" fill="#0f0f0f" textLength="94.51" lengthAdjust="spacingAndGlyphs" stroke="#0f0f0f" stroke-width="0.3">created</tspan> <tspan x="242.06" fill="#0f0f0f" textLength="50.69" lengthAdjust="spacingAndGlyphs" stroke="#0f0f0f" stroke-width="0.3">with</tspan> <tspan x="300.34" fill="#0f0f0f" textLength="219.63" lengthAdjust="spacingAndGlyphs" stroke="#0f0f0f" stroke-width="0.3">TradingView.com,</tspan> <tspan x="527.31" fill="#0f0f0f" textLength="47.38" lengthAdjust="spacingAndGlyphs" stroke="#0f0f0f" stroke-width="0.3">Mar</tspan> <tspan x="583.84" fill="#0f0f0f" textLength="34.09" lengthAdjust="spacingAndGlyphs" stroke="#0f0f0f" stroke-width="0.3">01,</tspan> <tspan x="626.24" fill="#0f0f0f" textLength="64.98" lengthAdjust="spacingAndGlyphs" stroke="#0f0f0f" stroke-width="0.3">2026</tspan> <tspan x="698.66" fill="#0f0f0f" textLength="70.36" lengthAdjust="spacingAndGlyphs" stroke="#0f0f0f" stroke-width="0.3">16:46</tspan> <tspan x="776.89" fill="#0f0f0f" textLength="88.15" lengthAdjust="spacingAndGlyphs" stroke="#0f0f0f" stroke-width="0.3">UTC+4</tspan></text>
<text id="legend" y="103.00" font-size="27.2"><tspan x="40.06" fill="#0f0f0f" textLength="51.36" lengthAdjust="spacingAndGlyphs" stroke="#0f0f0f" stroke-width="0.3">XRP</tspan> <tspan x="99.16" fill="#0f0f0f" stroke="#0f0f0f" stroke-width="0.3">/</tspan> <tspan x="116.18" fill="#0f0f0f" textLength="114.25" lengthAdjust="spacingAndGlyphs" stroke="#0f0f0f" stroke-width="0.3">TetherUS</tspan> <tspan x="237.20" fill="#0f0f0f" stroke="#0f0f0f" stroke-width="0.3">·</tspan> <tspan x="253.00" fill="#0f0f0f" textLength="33.00" lengthAdjust="spacingAndGlyphs" stroke="#0f0f0f" stroke-width="0.3">30</tspan> <tspan x="293.08" fill="#0f0f0f" stroke="#0f0f0f" stroke-width="0.3">·</tspan> <tspan x="309.86" fill="#0f0f0f" textLength="98.93" lengthAdjust="spacingAndGlyphs" stroke="#0f0f0f" stroke-width="0.3">Binance</tspan> <tspan x="423.12" fill="#0f0f0f" stroke="#0f0f0f" stroke-width="0.3">O</tspan><tspan x="443.98" fill="#f23645" textLength="77.44" lengthAdjust="spacingAndGlyphs" stroke="#f23645" stroke-width="0.3">1.3761</tspan> <tspan x="536.60" fill="#0f0f0f" stroke="#0f0f0f" stroke-width="0.3">H</tspan><tspan x="557.22" fill="#f23645" textLength="81.44" lengthAdjust="spacingAndGlyphs" stroke="#f23645" stroke-width="0.3">1.3776</tspan> <tspan x="653.82" fill="#0f0f0f" stroke="#0f0f0f" stroke-width="0.3">L</tspan><tspan x="668.60" fill="#f23645" textLength="85.84" lengthAdjust="spacingAndGlyphs" stroke="#f23645" stroke-width="0.3">1.3696</tspan> <tspan x="769.88" fill="#0f0f0f" stroke="#0f0f0f" stroke-width="0.3">C</tspan><tspan x="787.72" fill="#f23645" textLength="83.46" lengthAdjust="spacingAndGlyphs" stroke="#f23645" stroke-width="0.3">1.3739</tspan> <tspan x="886.76" fill="#f23645" textLength="102.86" lengthAdjust="spacingAndGlyphs" stroke="#f23645" stroke-width="0.3">−0.0022</tspan> <tspan x="999.24" fill="#f23645" textLength="110.43" lengthAdjust="spacingAndGlyphs" stroke="#f23645" stroke-width="0.3">(−0.16%)</tspan></text>
<g id="price-axis">
<text font-size="27.2" x="2560.36" y="190.40" fill="#0f0f0f" textLength="88.52" lengthAdjust="spacingAndGlyphs" stroke="#0f0f0f" stroke-width="0.3">1.7500</text>
<text font-size="27.2" x="2560.36" y="264.01" fill="#0f0f0f" textLength="88.52" lengthAdjust="spacingAndGlyphs" stroke="#0f0f0f" stroke-width="0.3">1.7000</text>
<text font-size="27.2" x="2560.36" y="337.63" fill="#0f0f0f" textLength="88.52" lengthAdjust="spacingAndGlyphs" stroke="#0f0f0f" stroke-width="0.3">1.6500</text>
<text font-size="27.2" x="2560.36" y="411.24" fill="#0f0f0f" textLength="88.52" lengthAdjust="spacingAndGlyphs" stroke="#0f0f0f" stroke-width="0.3">1.6000</text>
<text font-size="27.2" x="2560.36" y="484.86" fill="#0f0f0f" textLength="88.52" lengthAdjust="spacingAndGlyphs" stroke="#0f0f0f" stroke-width="0.3">1.5500</text>
<text font-size="27.2" x="2560.36" y="558.48" fill="#0f0f0f" textLength="88.52" lengthAdjust="spacingAndGlyphs" stroke="#0f0f0f" stroke-width="0.3">1.5000</text>
<text font-size="27.2" x="2560.36" y="632.09" fill="#0f0f0f" textLength="88.52" lengthAdjust="spacingAndGlyphs" stroke="#0f0f0f" stroke-width="0.3">1.4500</text>
<text font-size="27.2" x="2560.36" y="705.70" fill="#0f0f0f" textLength="88.52" lengthAdjust="spacingAndGlyphs" stroke="#0f0f0f" stroke-width="0.3">1.4000</text>
<text font-size="27.2" x="2560.36" y="852.93" fill="#0f0f0f" textLength="88.52" lengthAdjust="spacingAndGlyphs" stroke="#0f0f0f" stroke-width="0.3">1.3000</text>
<text font-size="27.2" x="2560.36" y="926.55" fill="#0f0f0f" textLength="88.52" lengthAdjust="spacingAndGlyphs" stroke="#0f0f0f" stroke-width="0.3">1.2500</text>
<text font-size="27.2" x="2560.36" y="1000.16" fill="#0f0f0f" textLength="88.52" lengthAdjust="spacingAndGlyphs" stroke="#0f0f0f" stroke-width="0.3">1.2000</text>
<text font-size="27.2" x="2560.36" y="1073.78" fill="#0f0f0f" textLength="88.52" lengthAdjust="spacingAndGlyphs" stroke="#0f0f0f" stroke-width="0.3">1.1500</text>
<text font-size="27.2" x="2560.36" y="1147.39" fill="#0f0f0f" textLength="88.52" lengthAdjust="spacingAndGlyphs" stroke="#0f0f0f" stroke-width="0.3">1.1000</text>
</g>
<rect x="2549" y="68" width="113" height="56" rx="8" ry="8" fill="#fff" stroke="#f3f3f3" stroke-width="2"/>
<text font-size="27.2" x="2567.98" y="105.10" fill="#0f0f0f" textLength="70.24" lengthAdjust="spacingAndGlyphs" stroke="#0f0f0f" stroke-width="0.3">USDT</text>
<path d="M2541 716H2657a5 5 0 0 1 5 5V781a5 5 0 0 1 -5 5H2541z" fill="#f23645"/>
<text font-size="27.2" x="2560.47" y="744.90" fill="#ffffff" textLength="89.53" lengthAdjust="spacingAndGlyphs" stroke="#ffffff" stroke-width="0.3">1.3739</text>
<text font-size="27.2" x="2560.10" y="775.30" fill="#ffffff" textLength="72.65" lengthAdjust="spacingAndGlyphs" stroke="#ffffff" stroke-width="0.3" stroke-opacity="0.8" fill-opacity="0.8">13:44</text>
<g id="time-axis">
<text font-size="27.2" x="56.60" y="1249.30" fill="#0f0f0f" textLength="49.60" lengthAdjust="spacingAndGlyphs" font-weight="bold">Feb</text>
<text font-size="27.2" x="237.64" y="1249.30" fill="#0f0f0f" stroke="#0f0f0f" stroke-width="0.3">3</text>
<text font-size="27.2" x="399.86" y="1249.30" fill="#0f0f0f" stroke="#0f0f0f" stroke-width="0.3">5</text>
<text font-size="27.2" x="564.57" y="1249.30" fill="#0f0f0f" stroke="#0f0f0f" stroke-width="0.3">7</text>
<text font-size="27.2" x="726.24" y="1249.30" fill="#0f0f0f" stroke="#0f0f0f" stroke-width="0.3">9</text>
<text font-size="27.2" x="882.54" y="1249.30" fill="#0f0f0f" textLength="31.24" lengthAdjust="spacingAndGlyphs" stroke="#0f0f0f" stroke-width="0.3">11</text>
<text font-size="27.2" x="1046.10" y="1249.30" fill="#0f0f0f" textLength="32.79" lengthAdjust="spacingAndGlyphs" stroke="#0f0f0f" stroke-width="0.3">13</text>
<text font-size="27.2" x="1209.82" y="1249.30" fill="#0f0f0f" textLength="32.00" lengthAdjust="spacingAndGlyphs" stroke="#0f0f0f" stroke-width="0.3">15</text>
<text font-size="27.2" x="1372.82" y="1249.30" fill="#0f0f0f" textLength="32.91" lengthAdjust="spacingAndGlyphs" stroke="#0f0f0f" stroke-width="0.3">17</text>
<text font-size="27.2" x="1536.47" y="1249.30" fill="#0f0f0f" textLength="33.62" lengthAdjust="spacingAndGlyphs" stroke="#0f0f0f" stroke-width="0.3">19</text>
<text font-size="27.2" x="1699.81" y="1249.30" fill="#0f0f0f" textLength="30.39" lengthAdjust="spacingAndGlyphs" stroke="#0f0f0f" stroke-width="0.3">21</text>
<text font-size="27.2" x="1863.24" y="1249.30" fill="#0f0f0f" textLength="31.95" lengthAdjust="spacingAndGlyphs" stroke="#0f0f0f" stroke-width="0.3">23</text>
<text font-size="27.2" x="2027.57" y="1249.30" fill="#0f0f0f" textLength="31.41" lengthAdjust="spacingAndGlyphs" stroke="#0f0f0f" stroke-width="0.3">25</text>
<text font-size="27.2" x="2190.19" y="1249.30" fill="#0f0f0f" textLength="32.20" lengthAdjust="spacingAndGlyphs" stroke="#0f0f0f" stroke-width="0.3">27</text>
<text font-size="27.2" x="2343.98" y="1249.30" fill="#0f0f0f" textLength="50.34" lengthAdjust="spacingAndGlyphs" font-weight="bold">Mar</text>
<text font-size="27.2" x="2525.50" y="1249.30" fill="#0f0f0f" stroke="#0f0f0f" stroke-width="0.3">3</text>
</g>
<g fill="none" stroke="#9c27b0" stroke-width="3"><circle cx="2426" cy="1180" r="21.6"/></g>
<path d="M2432.5 1168.6L2416.6 1181.1H2425.7L2419.9 1191.2L2435.7 1178.7H2427.3z" fill="#9c27b0" stroke="#9c27b0" stroke-width="0.7" stroke-linejoin="round"/>
<path d="M26 1317H53V1350H39.5V1330H26z" fill="#0f0f0f"/>
<circle cx="63.5" cy="1323.6" r="6.6" fill="#0f0f0f"/>
<path d="M74.5 1317H92L79 1350H63.8z" fill="#0f0f0f"/>
<text id="logo" y="1350.20" font-size="46"><tspan x="107.34" fill="#0f0f0f" textLength="156.20" lengthAdjust="spacingAndGlyphs" font-weight="bold">Trading</tspan><tspan x="264.74" fill="#0f0f0f" textLength="108.19" lengthAdjust="spacingAndGlyphs" font-weight="bold">View</tspan></text>
</svg>
</body></html>
